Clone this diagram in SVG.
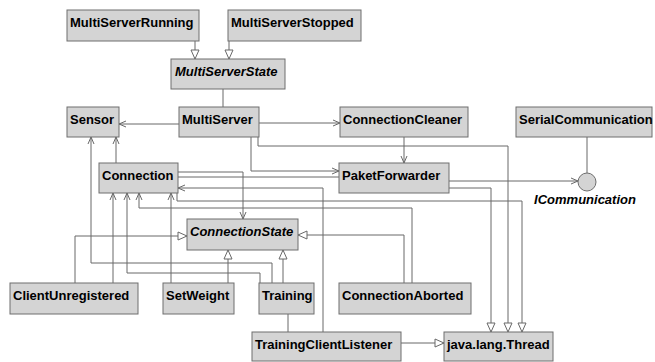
<svg xmlns="http://www.w3.org/2000/svg" width="655" height="362" viewBox="0 0 655 362">
<style>
.n rect{fill:#d4d4d4;stroke:#6e6e6e;stroke-width:1}
.n text{font-family:"Liberation Sans",Arial,sans-serif;font-weight:bold;font-size:13px;fill:#000}
.it{font-style:italic}
.c polyline{fill:none;stroke:#686868;stroke-width:1}
.a{marker-end:url(#open)}
.g{marker-end:url(#tri)}
</style>
<defs>
<marker id="open" markerWidth="10" markerHeight="10" refX="8" refY="4" orient="auto" markerUnits="userSpaceOnUse"><path d="M1,1 L8,4 L1,7" fill="none" stroke="#686868" stroke-width="1"/></marker>
<marker id="tri" markerWidth="12" markerHeight="12" refX="10" refY="5" orient="auto" markerUnits="userSpaceOnUse"><path d="M1,1 L10,5 L1,9 Z" fill="#fff" stroke="#686868" stroke-width="1"/></marker>
</defs>
<rect width="655" height="362" fill="#fff"/>
<g id="connectors" class="c">
<polyline class="g" points="195,41 195,59"/>
<polyline class="g" points="229,41 229,59"/>
<polyline points="223,89 223,107"/>
<polyline class="a" points="179,124 119,124"/>
<polyline class="a" points="259,123 340,123"/>
<polyline class="g" points="258,137 258,146 508,146 508,332"/>
<polyline class="a" points="251,137 251,171 339,171"/>
<polyline class="a" points="178,172 243,172 243,219"/>
<polyline points="178,177 339,177"/>
<polyline class="a" points="323,332 323,188 178,188"/>
<polyline class="g" points="177,193 177,201 522,201 522,332"/>
<polyline class="a" points="412,283 412,208 139,208 139,193"/>
<polyline class="g" points="404,283 404,235 298,235"/>
<polyline class="g" points="75,283 75,236 187,236"/>
<polyline class="a" points="116,163 116,137"/>
<polyline class="a" points="272,283 272,263 91,263 91,137"/>
<polyline class="a" points="113,283 113,193"/>
<polyline class="a" points="260,283 260,273 127,273 127,193"/>
<polyline class="a" points="171,283 171,193"/>
<polyline class="g" points="228,283 228,250"/>
<polyline class="g" points="283,283 283,250"/>
<polyline points="288,314 288,332"/>
<polyline class="g" points="401,343 444,343"/>
<polyline class="g" points="449,188 491,188 491,332"/>
<polyline class="a" points="449,181 578,181"/>
<polyline points="587,137 587,173"/>
<polyline class="a" points="404,137 404,163"/>
</g>
<g id="MultiServerRunning" class="n"><rect x="67" y="10" width="132" height="31"/><text x="70" y="27">MultiServerRunning</text></g>
<g id="MultiServerStopped" class="n"><rect x="228" y="10" width="133" height="31"/><text x="231" y="27">MultiServerStopped</text></g>
<g id="MultiServerState" class="n"><rect x="171" y="59" width="114" height="30"/><text class="it" x="175" y="76">MultiServerState</text></g>
<g id="Sensor" class="n"><rect x="67" y="107" width="52" height="30"/><text x="70" y="124">Sensor</text></g>
<g id="MultiServer" class="n"><rect x="179" y="107" width="80" height="30"/><text x="182" y="124">MultiServer</text></g>
<g id="ConnectionCleaner" class="n"><rect x="340" y="107" width="128" height="30"/><text x="343" y="124">ConnectionCleaner</text></g>
<g id="SerialCommunication" class="n"><rect x="516" y="107" width="136" height="30"/><text x="519" y="124">SerialCommunication</text></g>
<g id="Connection" class="n"><rect x="99" y="163" width="79" height="30"/><text x="102" y="180">Connection</text></g>
<g id="PaketForwarder" class="n"><rect x="339" y="163" width="110" height="30"/><text x="342" y="180">PaketForwarder</text></g>
<g id="ICommunication" class="n"><circle cx="587" cy="182" r="9" fill="#d4d4d4" stroke="#6e6e6e"/><text class="it" x="585" y="204" text-anchor="middle">ICommunication</text></g>
<g id="ConnectionState" class="n"><rect x="187" y="219" width="111" height="31"/><text class="it" x="190" y="236">ConnectionState</text></g>
<g id="ClientUnregistered" class="n"><rect x="10" y="283" width="128" height="31"/><text x="13" y="300">ClientUnregistered</text></g>
<g id="SetWeight" class="n"><rect x="163" y="283" width="71" height="31"/><text x="166" y="300">SetWeight</text></g>
<g id="Training" class="n"><rect x="259" y="283" width="55" height="31"/><text x="262" y="300">Training</text></g>
<g id="ConnectionAborted" class="n"><rect x="339" y="283" width="132" height="31"/><text x="342" y="300">ConnectionAborted</text></g>
<g id="TrainingClientListener" class="n"><rect x="252" y="332" width="149" height="29"/><text x="255" y="349">TrainingClientListener</text></g>
<g id="Thread" class="n"><rect x="444" y="332" width="109" height="29"/><text x="447" y="349">java.lang.Thread</text></g>
</svg>
